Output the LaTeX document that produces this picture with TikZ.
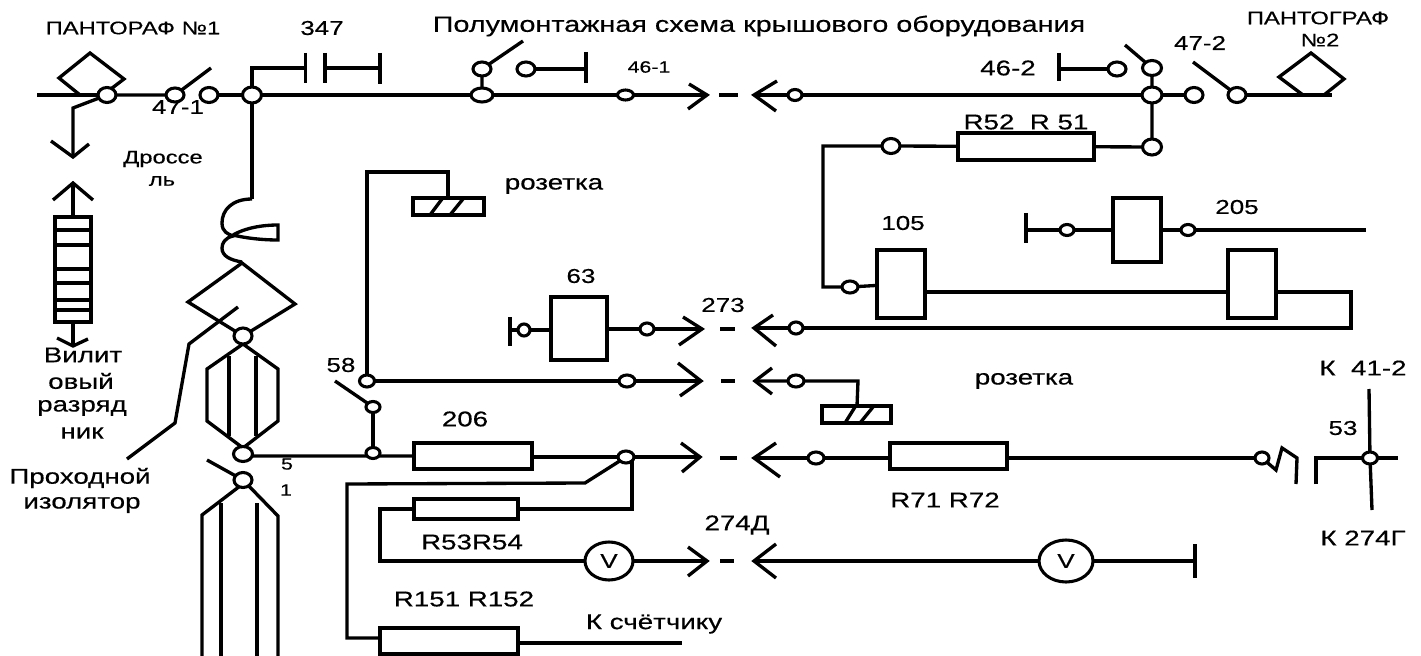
\documentclass[tikz,border=0pt]{standalone}
\usepackage{fontspec}
\setmainfont{Liberation Sans}[FakeStretch=1.3,FakeBold=0.4]
\usetikzlibrary{shapes.geometric}
\pgfdeclarelayer{front}
\pgfsetlayers{main,front}
\tikzset{
  wire/.style={line width=2.5pt,line join=miter,line cap=butt},
  term/.style={ellipse,draw,fill=white,line width=2.3pt,inner sep=0pt,outer sep=0pt},
  box/.style={rectangle,draw,fill=white,line width=2.5pt,inner sep=0pt,outer sep=0pt},
  lbl/.style={inner sep=0pt,outer sep=0pt,align=center,font=\fontsize{16}{17}\selectfont},
  lbls/.style={lbl,font=\fontsize{12.3}{13}\selectfont},
  lbld/.style={lbl,font=\fontsize{15}{16}\selectfont},
  lblt/.style={lbl,font=\fontsize{13.7}{14}\selectfont},
}
\newcommand{\term}[5]{\node[term,minimum width={#4*0.75pt},minimum height={#5*0.75pt}] (#1) at (#2,#3) {};}
\newcommand{\bx}[5]{\node[box,minimum width={(#4-#2)*0.75pt},minimum height={(#5-#3)*0.75pt}] (#1) at ({(#2+#4)/2},{(#3+#5)/2}) {};}
\begin{document}
\begin{tikzpicture}[x=0.75pt,y=-0.75pt]
\useasboundingbox (0,0) rectangle (1421,656);
\begin{pgfonlayer}{front}
% top row terminals
\term{p1}{107}{95}{18}{15}
\term{s1a}{175}{95}{18}{14}
\term{s1b}{209}{95}{18}{15}
\term{j1}{252}{95}{19}{16}
\term{j2}{482}{95}{22}{14}
\term{j2u}{482}{69}{18}{14}
\term{k1}{526}{69}{18}{14}
\term{n461}{625.5}{95}{16}{10}
\term{n462}{795}{95}{14}{11}
\term{j3}{1152}{95}{20}{16}
\term{j3u}{1152}{68}{19}{15}
\term{k2}{1117}{69}{18}{14}
\term{s2a}{1194}{95}{18}{15}
\term{s2b}{1237}{95}{18}{15}
\term{j4}{1152}{147}{19}{16}
\term{r52l}{891}{146}{18}{15}
\term{n105}{850}{287}{16}{12}
\term{n205a}{1067}{230}{14}{11}
\term{n205b}{1188}{230}{14}{11}
\term{n63a}{524}{330}{12}{12}
\term{n63b}{647}{329}{14}{12}
\term{n273}{796}{328}{14}{12}
% lower
\term{c1}{243}{336}{18}{16}
\term{c2}{243}{454}{19}{15}
\term{c3}{243}{480}{18}{15}
\term{n58a}{367}{381}{15}{12}
\term{n58b}{373}{407}{14}{11}
\term{n58c}{373}{453}{14}{11}
\term{nsk1}{627}{381}{16}{12}
\term{nsk2}{796}{381}{16}{12}
\term{r206}{626}{457}{16}{12}
\term{r71}{816}{458}{16}{12}
\term{sw}{1262}{458}{14}{12}
\term{n53}{1370}{458}{15}{12}
% boxes
\bx{R51}{958}{133}{1094}{160}
\bx{B105}{877}{250}{925}{318}
\bx{B105b}{1228}{250}{1276}{318}
\bx{B205}{1113}{198}{1161}{262}
\bx{B63}{551}{297}{607}{360}
\bx{R206}{414}{443}{532}{469}
\bx{R7172}{890}{443}{1007}{469}
\bx{R5354}{414}{499}{518}{519}
\bx{R151}{380}{628}{518}{654}
\bx{Sk1}{413}{198}{484}{215}
\bx{Sk2}{822}{406}{891}{423}
\node[term,minimum width={48*0.75pt},minimum height={38*0.75pt},font=\fontsize{15}{16}\selectfont] (V1) at (609,561) {V};
\node[term,minimum width={54*0.75pt},minimum height={42*0.75pt},font=\fontsize{15}{16}\selectfont] (V2) at (1066,561) {V};
% socket hatches
\draw[wire] (430,215)--(442,199) (450,215)--(463,199);
\draw[wire] (845,423)--(855,407) (860,423)--(873,407);
\end{pgfonlayer}
% named free ends
\coordinate (tA1) at (707,95); \coordinate (tA2) at (754,95);
\coordinate (tB1) at (702,329); \coordinate (tB2) at (754,328);
\coordinate (tC1) at (701,381); \coordinate (tC2) at (755,381);
\coordinate (tD1) at (700,457); \coordinate (tD2) at (754,458);
\coordinate (tE1) at (707,561); \coordinate (tE2) at (754,561);
% pantograph 1
\draw[wire] (80,95)--(59,78)--(90,53)--(124,79)--(103,95);
\draw[wire] (37,95)--(p1.center);
\draw[wire] (p1)--(73,108)--(73,157);
\draw[wire] (51,141)--(73,157)--(89,144);
\draw[wire] (p1)--(s1a) (s1a)--(211,68);
\draw[wire] (s1b)--(j1) (j1)--(j2);
\draw[wire] (j1.center)--(252,68)--(305,68);
\draw[wire] (305.5,53)--(305.5,83);
\draw[wire] (325,53)--(325,83);
\draw[wire] (325,68)--(380,68) (380,53)--(380,84);
\draw[wire] (j2)--(j2u) (j2u)--(523,41);
\draw[wire] (k1)--(586,69) (586,52)--(586,83);
\draw[wire] (j2)--(n461)--(tA1);
\draw[wire] (689,84)--(tA1)--(688,109);
\draw[wire] (719,95)--(738,95);
\draw[wire] (777,81)--(tA2)--(776,111);
\draw[wire] (tA2)--(n462)--(j3);
\draw[wire] (j3)--(j3u) (j3u)--(1125,45);
\draw[wire] (k2)--(1059,69) (1059,53)--(1059,81);
\draw[wire] (j3)--(s2a);
\draw[wire] (s2b)--(1193,62);
\draw[wire] (s2b)--(1332,95);
\draw[wire] (1303,95)--(1279,77)--(1311,53)--(1344,79)--(1324,95);
% R51/52 chain
\draw[wire] (j3)--(j4) (j4)--(R51) (R51)--(r52l) (r52l)--(823,146)--(823,287)--(n105) (n105)--(B105);
\draw[wire] (925,292)--(1228,292);
\draw[wire] (1276,292)--(1351,292)--(1351,328)--(n273) (n273)--(tB2);
\draw[wire] (773,315)--(tB2)--(776,346);
\draw[wire] (720,329)--(735,329);
\draw[wire] (683,317)--(tB1)--(679,345);
\draw[wire] (B63.east |- tB1)--(n63b)--(tB1);
\draw[wire] (510,317)--(510,346) (510,330)--(n63a) (n63a)--(551,330);
% 205
\draw[wire] (1026,213)--(1026,243) (1026,230)--(n205a) (n205a)--(B205.west |- n205a);
\draw[wire] (B205.east |- n205b)--(n205b) (n205b)--(1366,230);
% arrester
\draw[wire] (53,200)--(73,183)--(93,200);
\draw[wire] (73,183)--(73,217);
\draw[wire] (55,217) rectangle (91,322);
\draw[wire] (55,230)--(91,230) (55,245)--(91,245) (55,269)--(91,269) (55,283)--(91,283) (55,300)--(91,300) (55,310)--(91,310);
\draw[wire] (73,322)--(73,346);
\draw[wire] (57,338)--(73,346)--(88,339);
% choke
\draw[wire] (j1)--(252,199);
\draw[wire] (252,199) .. controls (232,199) and (222,210) .. (222,223) .. controls (222,232) and (228,234) .. (233,236) .. controls (225,238) and (222,243) .. (222,248) .. controls (222,256) and (230,260) .. (242,262);
\draw[wire] (233,235) .. controls (245,228) and (262,225) .. (278,225)--(278,240) .. controls (262,240) and (245,238) .. (233,235);
% insulator diamond
\draw[wire] (c1.center)--(188,302)--(242,263)--(295,304)--(c1.center);
\draw[wire] (238,307)--(189,344)--(175,423)--(127,459);
% hex
\draw[wire] (243,344)--(207,369)--(207,421)--(243,448)--(278,421)--(278,369)--cycle;
\draw[wire] (229,356)--(229,436) (256,356)--(256,436);
\draw[wire] (c1)--(243,344) (243,448)--(c2);
% lower
\draw[wire] (c2.center)--(245,456)--(R206.west |- 0,456);
\draw[wire] (207,460)--(c3.center);
\draw[wire] (c3.center)--(278,516)--(278,656);
\draw[wire] (240,486)--(202,515)--(202,656);
\draw[wire] (221,503)--(221,656) (257,503)--(257,656);
% 58
\draw[wire] (n58a)--(367,172)--(448,172)--(448,198);
\draw[wire] (n58a)--(nsk1) (nsk1)--(tC1);
\draw[wire] (678,363)--(tC1)--(680,396);
\draw[wire] (721,381)--(735,381);
\draw[wire] (772,368)--(tC2)--(772,394);
\draw[wire] (tC2)--(nsk2) (nsk2)--(858,381)--(857,406);
\draw[wire] (n58b)--(335,381);
\draw[wire] (n58b)--(n58c);
% 206 line
\draw[wire] (532,457)--(r206);
\draw[wire] (r206)--(tD1);
\draw[wire] (681,443)--(tD1)--(682,472);
\draw[wire] (720,458)--(737,458);
\draw[wire] (776,443)--(tD2)--(780,477);
\draw[wire] (tD2)--(r71) (r71)--(890,458);
\draw[wire] (1007,458)--(sw);
\draw[wire] (sw)--(1276,470)--(1282,448)--(1297,458)--(1296,484);
\draw[wire] (1316,484)--(1316,458)--(n53) (n53)--(1398,458);
\draw[wire] (1369,389)--(n53) (n53)--(1372,510);
\draw[wire] (r206)--(585,483)--(347,484)--(347,638)--(380,638);
\draw[wire] (518,643)--(682,643);
\draw[wire] (632,459)--(632,509)--(518,509);
\draw[wire] (414,509)--(380,509)--(380,561)--(V1);
\draw[wire] (V1)--(tE1);
\draw[wire] (688,547)--(tE1)--(688,576);
\draw[wire] (720,561)--(734,561);
\draw[wire] (776,544)--(tE2)--(776,578);
\draw[wire] (tE2)--(V2) (V2)--(1195,561);
\draw[wire] (1195,544)--(1195,578);
% labels
\node[lblt] (tP1) at (133,28) {ПАНТОРАФ №1};
\node[lbld] (t347) at (322,28) {347};
\node[lbl,font=\fontsize{16.6}{17}\selectfont] (tTitle) at (759,26) {Полумонтажная схема крышового оборудования};
\node[lbls] (t461) at (649,67) {46-1};
\node[lbl] (t462) at (1008,68) {46-2};
\node[lbld] (t471) at (178,107) {47-1};
\node[lbld] (t472) at (1200,43) {47-2};
\node[lblt] (tP2) at (1318,18) {ПАНТОГРАФ};
\node[lblt] (tP2n) at (1320,40) {№2};
\node[lblt] (tDr) at (163,159) {Дроссе};
\node[lblt] (tDr2) at (162,181) {ль};
\node[lbl] (tS1) at (554,186) {розетка};
\node[lbld] (t105) at (903,223) {105};
\node[lbld] (t205) at (1237,207) {205};
\node[lbld] (t63) at (581,276) {63};
\node[lbld] (t273) at (723,305) {273};
\node[lbl] (tR52) at (1026,122) {R52\ \ R\ 51};
\node[lbld] (t58) at (341,365) {58};
\node[lbl] (t206) at (465,419) {206};
\node[lbl] (tS2) at (1024,381) {розетка};
\node[lbl] (tK41) at (1363,368) {К\ \ 41-2};
\node[lbld] (t53) at (1343,428) {53};
\node[lbl] (tK274) at (1363,538) {К 274Г};
\node[lbl] (tR71) at (945,500) {R71\ R72};
\node[lbl] (tR53) at (472,542) {R53R54};
\node[lbl] (t274) at (737,525) {274Д};
\node[lbl] (tR151) at (464,599) {R151\ R152};
\node[lbl] (tCnt) at (654,624) {К счётчику};
\node[lbl] (tV1) at (83,355) {Вилит};
\node[lbl] (tV2) at (81,381) {овый};
\node[lbl] (tV3) at (82,408) {разряд};
\node[lbl] (tV4) at (82,433) {ник};
\node[lbl] (tI1) at (80,478) {Проходной};
\node[lbl] (tI2) at (82,505) {изолятор};
\node[lbls] (t5) at (287,464) {5};
\node[lbls] (t1) at (286,490) {1};
\end{tikzpicture}
\end{document}
